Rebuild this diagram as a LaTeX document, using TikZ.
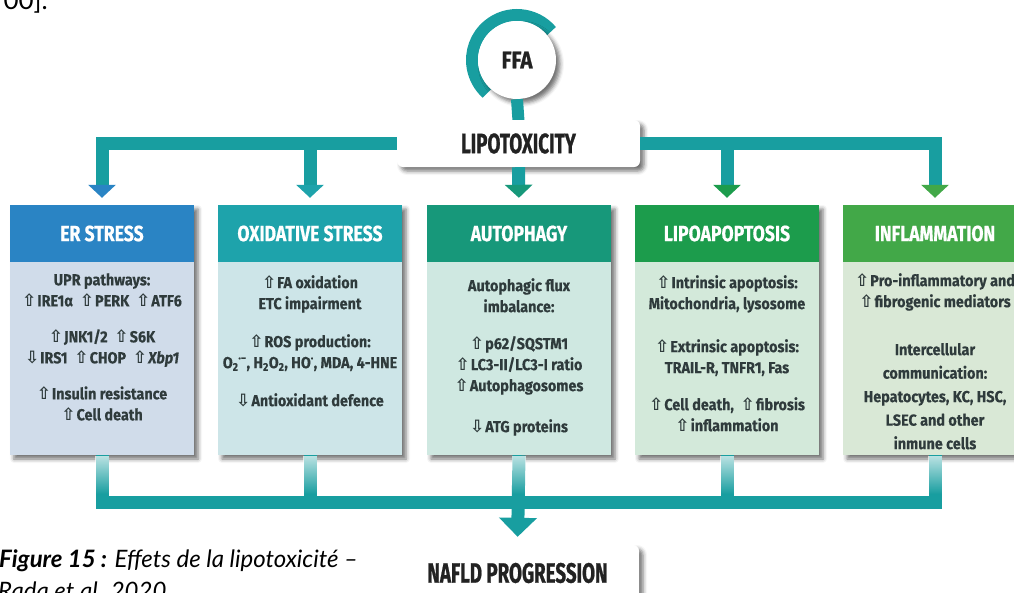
\documentclass[tikz,border=0pt]{standalone}
\usepackage{fontspec}
\usetikzlibrary{arrows.meta,shadows.blur,fadings}
\newfontfamily\bodyf[FakeStretch=0.9,FakeBold=0.3]{Fira Sans}
\newfontfamily\headf[FakeStretch=0.8,FakeBold=0.6]{Fira Sans}
\newfontfamily\bigf[FakeStretch=0.67,FakeBold=0.8]{Fira Sans}
\newfontfamily\ffaf[FakeStretch=0.85,FakeBold=0.8]{Fira Sans}
\newfontfamily\symf{DejaVu Sans}
\newfontfamily\capf{Lato}
\definecolor{tealC}{RGB}{24,158,160}
\definecolor{erC}{HTML}{2A84C4}\definecolor{erB}{HTML}{D0DCEA}
\definecolor{oxC}{HTML}{1EA3AB}\definecolor{oxB}{HTML}{CDE5E8}
\definecolor{auC}{HTML}{17987A}\definecolor{auB}{HTML}{CFE8E1}
\definecolor{lpC}{HTML}{1C9C4C}\definecolor{lpB}{HTML}{D3E9DA}
\definecolor{inC}{HTML}{42A848}\definecolor{inB}{HTML}{D9E8D6}
\definecolor{txt}{HTML}{2F3B3C}
\definecolor{txtdark}{HTML}{222222}
\newcommand\upar{{\symf\fontsize{17}{17}\selectfont\char"21E7}\hspace{1pt}}
\newcommand\dnar{{\symf\fontsize{17}{17}\selectfont\char"21E9}\hspace{1pt}}
\newcommand\mkcol[5]{%
  \node[colbg, fill=#4] (#1bg) at (#2+92,330) {};
  \node[colhead, fill=#3] (#1head) at (#2+92,233.5) {#5};
  \node[colbody, fill=#4] (#1body) at (#2+92,358.5) {};
}
\tikzset{
  shd/.style={blur shadow={shadow xshift=4pt, shadow yshift=-4pt, shadow blur radius=4pt, shadow opacity=55}},
  colbg/.style={rectangle, minimum width=184pt, minimum height=250pt, inner sep=0, shd},
  colhead/.style={rectangle, minimum width=184pt, minimum height=57pt, inner sep=0, text=white, font=\headf\bfseries\fontsize{22}{22}\selectfont},
  colbody/.style={rectangle, minimum width=184pt, minimum height=193pt, inner sep=0},
  bodytext/.style={anchor=north, align=center, inner sep=0, text=txt, font=\bodyf\bfseries\fontsize{16}{21}\selectfont},
  bigbox/.style={rectangle, rounded corners=6pt, fill=white, minimum width=243pt, inner sep=0, text=txtdark, font=\bigf\bfseries\fontsize{28}{28}\selectfont, shd},
  conn/.style={draw=tealC, line width=13pt, line join=miter},
  arrowto/.style={-{Triangle[width=27pt,length=13pt,fill=#1,color=#1]}, shorten >=7pt},
  bigarrow/.style={-{Triangle[width=37pt,length=19pt,fill=tealC,color=tealC]}, shorten >=8pt},
  capt/.style={inner sep=0, text=black, font=\capf\itshape\fontsize{24}{24}\selectfont},
}
\begin{document}
\begin{tikzpicture}[x=1pt,y=-1pt]
\useasboundingbox (0,0) rectangle (1014,592);
% FFA ring and circle
\draw[tealC, line width=12pt] (517,60) ++(-40:45) arc[start angle=-40, end angle=-228, radius=45];
\node[circle, fill=white, minimum size=78pt, inner sep=0, shd, text=txtdark, font=\ffaf\bfseries\fontsize{24}{24}\selectfont] (ffa) at (517,60) {FFA};
\draw[conn, line width=12pt] (ffa.south) -- (518.5,121);
\node[bigbox, minimum height=47pt] (lipo) at (518.5,143.5) {LIPOTOXICITY};
% columns
\mkcol{er}{10}{erC}{erB}{ER STRESS}
\mkcol{ox}{218}{oxC}{oxB}{OXIDATIVE STRESS}
\mkcol{au}{427}{auC}{auB}{AUTOPHAGY}
\mkcol{lp}{635}{lpC}{lpB}{LIPOAPOPTOSIS}
\mkcol{in}{843}{inC}{inB}{INFLAMMATION}
% body texts
\node[bodytext] (ertext) at (102,273) {UPR pathways:\\
\upar IRE1α\ \ \upar PERK\ \ \upar ATF6\\[15pt]
\upar JNK1/2\ \ \upar S6K\\
\dnar IRS1\ \ \upar CHOP\ \ \upar\textit{Xbp1}\\[15pt]
\upar Insulin resistance\\
\upar Cell death};
\node[bodytext] (oxtext) at (310,275) {\upar FA oxidation\\
ETC impairment\\[17pt]
\upar ROS production:\\
O\textsubscript{2}\textsuperscript{·−}, H\textsubscript{2}O\textsubscript{2}, HO\textsuperscript{·}, MDA, 4-HNE\\[17pt]
\dnar Antioxidant defence};
\node[bodytext] (autext) at (519,278) {Autophagic flux\\
imbalance:\\[16pt]
\upar p62/SQSTM1\\
\upar LC3-II/LC3-I ratio\\
\upar Autophagosomes\\[20pt]
\dnar ATG proteins};
\node[bodytext] (lptext) at (727,275) {\upar Intrinsic apoptosis:\\
Mitochondria, lysosome\\[22pt]
\upar Extrinsic apoptosis:\\
TRAIL-R, TNFR1, Fas\\[16pt]
\upar Cell death,\ \ \upar fibrosis\\
\upar inflammation};
\node[bodytext] (intext) at (935,273) {\upar Pro-inflammatory and\\
\upar fibrogenic mediators\\[27pt]
Intercellular\\[2.5pt]
communication:\\[2.5pt]
Hepatocytes, KC, HSC,\\[2.5pt]
LSEC and other\\[2.5pt]
inmune cells};
% top connectors
\draw[conn, arrowto=erC] (lipo.west) -| (erhead.north);
\draw[conn, arrowto=oxC] (lipo.west -| oxhead.north) -- (oxhead.north);
\draw[conn, arrowto=auC] (lipo.south) -- (auhead.north);
\draw[conn, arrowto=lpC] (lipo.east -| lphead.north) -- (lphead.north);
\draw[conn, arrowto=inC] (lipo.east) -| (inhead.north);
% bottom
\node[bigbox, minimum height=56pt] (nafld) at (517.5,573) {NAFLD PROGRESSION};
\coordinate (join) at (519,502);
\draw[conn] (erbody.south) |- (join);
\draw[conn] (inbody.south) |- (join);
\draw[conn] (oxbody.south) -- (oxbody.south |- join);
\draw[conn] (lpbody.south) -- (lpbody.south |- join);
\draw[conn, bigarrow] (aubody.south) -- (nafld.north);
\foreach \xx in {102,310,519,727,935}{
  \fill[white, fill opacity=0.7, path fading=south] (\xx-7,456) rectangle (\xx+7,494);
}
% caption and fragment
\node[capt, anchor=base west] (cap1) at (-1,567) {\textbf{Figure 15 :} Effets de la lipotoxicité –};
\node[capt, anchor=base west] (cap2) at (-2,599) {Rada et al. 2020};
\node[inner sep=0, anchor=base east, text=black, font=\capf\fontsize{26}{26}\selectfont] (frag) at (48,9) {00].};
\end{tikzpicture}
\end{document}
